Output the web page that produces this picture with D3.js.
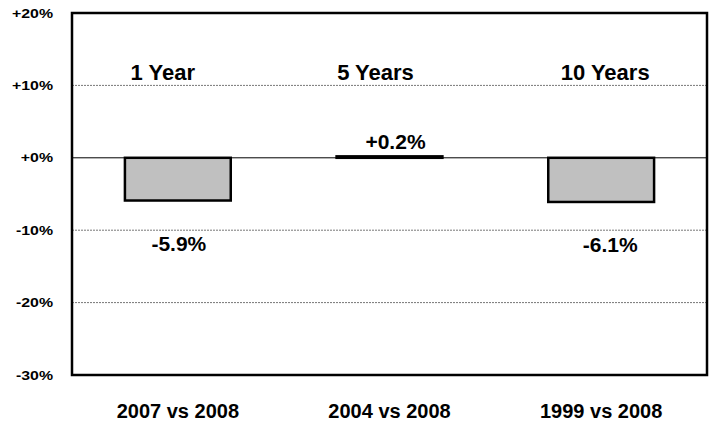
<!DOCTYPE html>
<html><head><meta charset="utf-8">
<script src="https://cdn.jsdelivr.net/npm/d3@7"></script>
<style>body{margin:0;background:#fff}svg{display:block;font-family:"Liberation Sans",Arial,sans-serif;font-weight:bold}</style>
</head><body><svg id="c" width="714" height="421"></svg>
<script>
const categories = ["2007 vs 2008", "2004 vs 2008", "1999 vs 2008"];
const periods = ["1 Year", "5 Years", "10 Years"];
const values = [-5.9, 0.2, -6.1];
const valueLabels = ["-5.9%", "+0.2%", "-6.1%"];
const yTicks = [20, 10, 0, -10, -20, -30];
const yTickLabels = ["+20%", "+10%", "+0%", "-10%", "-20%", "-30%"];

const svg = d3.select("#c");
const L = 72, R = 707, T = 13, B = 375;
const x = d3.scaleBand().domain(categories).range([L, R]).paddingInner(0.5).paddingOuter(0.25);
const y = d3.scaleLinear().domain([-30, 20]).range([B, T]);
const cx = c => x(c) + x.bandwidth() / 2;

// gridlines
svg.append("g").selectAll("line").data(yTicks.filter(d => d !== 20 && d !== -30 && d !== 0))
  .join("line").attr("x1", L).attr("x2", R).attr("y1", d => y(d)).attr("y2", d => y(d))
  .attr("stroke", "#777").attr("stroke-width", 1).attr("stroke-dasharray", "2,1");

// tick labels via axis
const ax = d3.axisLeft(y).tickValues(yTicks).tickFormat((d, i) => yTickLabels[i]).tickSize(0).tickPadding(19);
const ag = svg.append("g").attr("transform", `translate(${L},0)`).call(ax);
ag.select(".domain").remove();
ag.selectAll("text").attr("font-size", 12.5).attr("font-weight", "bold").attr("fill", "#000")
  .attr("font-family", '"Liberation Sans",Arial,sans-serif')
  .each(function () {
    const w = this.getComputedTextLength();
    d3.select(this).attr("textLength", w * 1.27).attr("lengthAdjust", "spacingAndGlyphs");
  });

// bars
svg.append("g").selectAll("rect").data(values).join("rect")
  .attr("x", (d, i) => x(categories[i]))
  .attr("width", x.bandwidth())
  .attr("y", d => y(Math.max(0, d)))
  .attr("height", d => Math.abs(y(d) - y(0)))
  .attr("fill", "#c0c0c0").attr("stroke", "#000").attr("stroke-width", 2.5);

// zero line
svg.append("line").attr("x1", L).attr("x2", R).attr("y1", y(0)).attr("y2", y(0))
  .attr("stroke", "#000").attr("stroke-width", 1);

// frame
svg.append("rect").attr("x", L).attr("y", T).attr("width", R - L).attr("height", B - T)
  .attr("fill", "none").attr("stroke", "#000").attr("stroke-width", 2.5);

// period titles
const titleDx = [-15, -14, 4];
svg.append("g").selectAll("text").data(periods).join("text")
  .attr("x", (d, i) => cx(categories[i]) + titleDx[i])
  .attr("y", 80).attr("text-anchor", "middle").attr("font-size", 22).text(d => d);

// value labels
const labDx = [1, 6, 9];
svg.append("g").selectAll("text").data(values).join("text")
  .attr("x", (d, i) => cx(categories[i]) + labDx[i])
  .attr("y", d => d >= 0 ? y(d) - 7 : y(d) + 50)
  .attr("text-anchor", "middle").attr("font-size", 21).text((d, i) => valueLabels[i]);

// category labels
svg.append("g").selectAll("text").data(categories).join("text")
  .attr("x", d => cx(d)).attr("y", 418)
  .attr("text-anchor", "middle").attr("font-size", 20).text(d => d);
</script></body></html>
